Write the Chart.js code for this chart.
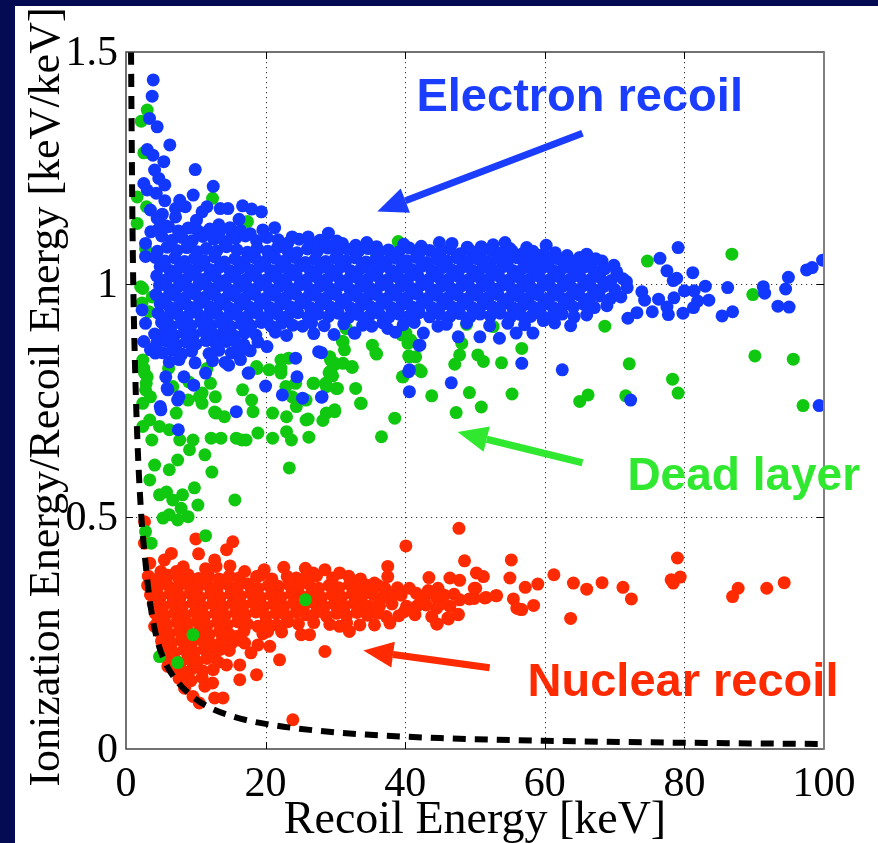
<!DOCTYPE html>
<html>
<head>
<meta charset="utf-8">
<script src="https://cdn.jsdelivr.net/npm/chart.js@4.4.1/dist/chart.umd.min.js"></script>
<style>
  html, body { margin: 0; padding: 0; background: #ffffff; }
  canvas { display: block; }
</style>
</head>
<body>
<canvas id="chart" width="878" height="843"></canvas>
<script>
// Axis ticks
const xTicks = [0, 20, 40, 60, 80, 100];
const yTicks = [0, 0.5, 1, 1.5];

// Electron recoil events [recoil energy keV, ionization / recoil]
const electronRecoil = [
  [3.9,1.44],[3.75,1.405],[3.37,1.357],[4.47,1.339],[6.28,1.30],[3.04,1.29],[3.85,1.278],[5.42,1.264],[9.92,1.247],[4.09,1.246],
  [4.7,1.228],[5.56,1.214],[2.55,1.217],[4.33,1.196],[3.04,1.203],[12.5,1.211],[9.63,1.192],[5.56,1.18],[7.7,1.181],[3.5,1.16],
  [7.1,1.163],[8.5,1.167],[11.6,1.167],[10.9,1.156],[13.5,1.163],[14.6,1.163],[16.7,1.169],[18.0,1.162],[19.4,1.156],[5.2,1.151],
  [4.47,1.142],[10.1,1.138],[7.1,1.145],[16.2,1.14],[21.3,1.122],[5.66,1.126],[13.3,1.128],[3.55,1.113],[10,1.12],[15.2,1.11],
  [23.8,1.102],[26.1,1.102],[27.8,1.095],[2.8,1.088],[29,1.11],[31,1.088],[35.9,1.081],[44.9,1.09],[50.9,1.081],[54.3,1.09],
  [55,1.077],[66,1.065],[64,1.049],
  [25.3,0.91],[32.8,0.895],[35.2,0.91],[37.5,0.905],[42.6,0.895],[44.7,0.91],[47.6,0.887],[50.7,0.887],[53.5,0.884],[55.9,0.895],
  [58.3,0.895],[59.8,0.922],[28,0.853],[40.6,0.816],[40.6,0.769],[46.6,0.788],[56.7,0.83],[62.5,0.816],[25.3,0.755],[28,0.757],[42.1,0.869],
  [79.1,1.079],[76.5,1.056],[77.5,1.029],[78.9,1.013],[78.4,1.008],[81.2,1.025],[83,0.996],[80,0.986],[81.4,0.986],[86.2,0.993],
  [91.3,0.995],[91.5,0.981],[94.5,0.99],[94.9,1.015],[97.5,1.031],[98.3,1.036],[99.8,1.052],[76.3,0.968],[78.5,0.971],[81.9,0.964],
  [83.5,0.966],[81.3,0.95],[77.5,0.951],[77.7,0.935],[75.4,0.941],[79.8,0.938],[85.4,0.932],[86.9,0.941],[93.4,0.953],[95,0.951],
  [73.2,0.939],[71.9,0.927],[74.3,0.966],[73.9,0.984],[71.7,1.006],[68.5,1.034],[72.3,0.751],[99.3,0.739],
  [2.8,1.06],[2.3,0.945],[2.8,0.916],[2.55,0.877],[3.5,0.859],[4.2,0.852],[4.9,0.88],[5.7,0.801],[5.9,0.776],[7.6,0.758],
  [4.9,0.737],[8.3,0.801],[9.7,0.783],[11.4,0.809],[13.5,0.877],[15.9,0.873],[16.2,0.848],[14.7,0.826],[17.6,0.809],[20.2,0.866],
  [20,0.781],[22.4,0.762],[24.3,0.841],[24.5,0.801],[28.1,0.758],[27.6,0.855],[32.7,0.895],[40.5,0.812],[42,0.869],[7.4,0.751],
  [5.0,0.73],[7.5,0.687],[15.8,0.726],[6.0,0.773],[17.5,0.809],
  [4.6,1.118],[6.1,1.124],[7.5,1.115],[8.9,1.121],[10.6,1.112],[12.0,1.119],[13.4,1.113],[14.9,1.122],[16.4,1.116],[17.8,1.109],[19.6,1.117],
  [5.1,1.104],[6.6,1.095],[8.0,1.101],[9.5,1.094],[11.0,1.103],[12.6,1.097],[14.1,1.092],[15.7,1.099],[17.1,1.104],[18.7,1.094],
  [20.2,1.101],[21.8,1.096],[23.2,1.089],[24.8,1.097],[26.4,1.091],[28.6,1.087],[30.2,1.093],[32.9,1.084],[34.5,1.09],[39.8,1.086],
  [42.3,1.082],[46.7,1.088],[48.9,1.08],[52.6,1.085],[57.4,1.079],[60.2,1.084],
  [4.5,1.071],[5.9,1.08],[7.3,1.073],[8.7,1.079],[10.2,1.07],[11.5,1.077],[13.0,1.072],[14.4,1.081],[15.9,1.074],[17.4,1.069],
  [18.8,1.078],[20.3,1.071],[21.7,1.079],[23.1,1.074],[24.5,1.068],[26.0,1.076],[27.4,1.071],[28.9,1.078],[30.3,1.069],[31.8,1.075],
  [33.3,1.071],[34.7,1.077],[36.2,1.068],[37.6,1.074],[39.1,1.07],[40.6,1.078],[42.0,1.067],[43.5,1.073],[45.0,1.069],[46.4,1.076],
  [47.9,1.066],[49.4,1.072],[50.8,1.067],[52.3,1.074],[53.8,1.068],[55.3,1.072],[56.8,1.066],[58.3,1.071],[59.8,1.065],[61.5,1.068],
  [63.2,1.062],[65.0,1.058],[67.3,1.055],
  [4.2,1.058],[5.6,1.05],[7.0,1.057],[8.4,1.049],[9.8,1.056],[11.2,1.051],[12.7,1.059],[14.1,1.048],[15.6,1.055],[17.0,1.05],
  [18.5,1.057],[19.9,1.049],[21.4,1.056],[22.8,1.051],[24.2,1.058],[25.7,1.047],[27.1,1.054],[28.6,1.049],[30.0,1.056],[31.5,1.05],
  [32.9,1.057],[34.4,1.048],[35.8,1.055],[37.3,1.049],[38.7,1.056],[40.2,1.051],[41.6,1.058],[43.1,1.047],[44.5,1.054],[46.0,1.05],
  [47.4,1.057],[48.9,1.048],[50.3,1.055],[51.8,1.049],[53.2,1.056],[54.7,1.05],[56.1,1.057],[57.6,1.048],[59.0,1.054],[60.5,1.049],
  [61.9,1.055],[63.4,1.048],[64.8,1.053],[66.5,1.046],[68.2,1.05],[69.9,1.041],
  [4.9,1.038],[6.3,1.03],[7.7,1.036],[9.1,1.031],[10.5,1.039],[12.0,1.032],[13.4,1.037],[14.9,1.029],[16.3,1.035],[17.8,1.031],
  [19.2,1.038],[20.7,1.03],[22.1,1.036],[23.5,1.032],[25.0,1.039],[26.4,1.03],[27.9,1.036],[29.3,1.031],[30.8,1.038],[32.2,1.029],
  [33.7,1.035],[35.1,1.031],[36.6,1.038],[38.0,1.03],[39.5,1.036],[40.9,1.032],[42.4,1.039],[43.8,1.03],[45.3,1.036],[46.7,1.031],
  [48.2,1.037],[49.6,1.03],[51.1,1.036],[52.5,1.032],[54.0,1.038],[55.4,1.03],[56.9,1.035],[58.3,1.031],[59.8,1.037],[61.2,1.03],
  [62.7,1.036],[64.1,1.031],[65.6,1.037],[67.0,1.03],[68.6,1.034],[70.3,1.027],
  [4.4,1.018],[5.8,1.01],[7.2,1.016],[8.6,1.011],[10.0,1.019],[11.4,1.012],[12.8,1.017],[14.3,1.009],[15.7,1.015],[17.2,1.011],
  [18.6,1.018],[20.1,1.01],[21.5,1.016],[23.0,1.012],[24.4,1.019],[25.9,1.01],[27.3,1.016],[28.8,1.011],[30.2,1.018],[31.7,1.009],
  [33.1,1.015],[34.6,1.011],[36.0,1.018],[37.5,1.01],[38.9,1.016],[40.4,1.012],[41.8,1.019],[43.3,1.01],[44.7,1.016],[46.2,1.011],
  [47.6,1.017],[49.1,1.01],[50.5,1.016],[52.0,1.012],[53.4,1.018],[54.9,1.01],[56.3,1.015],[57.8,1.011],[59.2,1.017],[60.7,1.01],
  [62.1,1.016],[63.6,1.011],[65.0,1.017],[66.5,1.01],[67.9,1.015],[69.5,1.008],[71.2,1.012],
  [4.8,0.998],[6.2,0.99],[7.6,0.996],[9.0,0.991],[10.4,0.999],[11.9,0.992],[13.3,0.997],[14.7,0.989],[16.2,0.995],[17.6,0.991],
  [19.1,0.998],[20.5,0.99],[22.0,0.996],[23.4,0.992],[24.9,0.999],[26.3,0.99],[27.8,0.996],[29.2,0.991],[30.7,0.998],[32.1,0.989],
  [33.6,0.995],[35.0,0.991],[36.5,0.998],[37.9,0.99],[39.4,0.996],[40.8,0.992],[42.3,0.999],[43.7,0.99],[45.2,0.996],[46.6,0.991],
  [48.1,0.997],[49.5,0.99],[51.0,0.996],[52.4,0.992],[53.9,0.998],[55.3,0.99],[56.8,0.995],[58.2,0.991],[59.7,0.997],[61.1,0.99],
  [62.6,0.996],[64.0,0.991],[65.5,0.997],[66.9,0.99],[68.4,0.995],[70.0,0.989],[71.8,0.993],
  [4.3,0.978],[5.7,0.97],[7.1,0.976],[8.5,0.971],[9.9,0.979],[11.3,0.972],[12.7,0.977],[14.2,0.969],[15.6,0.975],[17.1,0.971],
  [18.5,0.978],[20.0,0.97],[21.4,0.976],[22.9,0.972],[24.3,0.979],[25.8,0.97],[27.2,0.976],[28.7,0.971],[30.1,0.978],[31.6,0.969],
  [33.0,0.975],[34.5,0.971],[35.9,0.978],[37.4,0.97],[38.8,0.976],[40.3,0.972],[41.7,0.979],[43.2,0.97],[44.6,0.976],[46.1,0.971],
  [47.5,0.977],[49.0,0.97],[50.4,0.976],[51.9,0.972],[53.3,0.978],[54.8,0.97],[56.2,0.975],[57.7,0.971],[59.1,0.977],[60.6,0.97],
  [62.0,0.976],[63.5,0.971],[64.9,0.977],[66.4,0.97],[67.8,0.975],[69.4,0.969],[70.9,0.973],
  [4.9,0.958],[6.3,0.95],[7.7,0.956],[9.1,0.951],[10.5,0.959],[12.0,0.952],[13.4,0.957],[14.8,0.949],[16.3,0.955],[17.7,0.951],
  [19.2,0.958],[20.6,0.95],[22.1,0.956],[23.5,0.952],[25.0,0.959],[26.4,0.95],[27.9,0.956],[29.3,0.951],[30.8,0.958],[32.2,0.949],
  [33.7,0.955],[35.1,0.951],[36.6,0.958],[38.0,0.95],[39.5,0.956],[40.9,0.952],[42.4,0.959],[43.8,0.95],[45.3,0.956],[46.7,0.951],
  [48.2,0.957],[49.6,0.95],[51.1,0.956],[52.5,0.952],[54.0,0.958],[55.4,0.95],[56.9,0.955],[58.3,0.951],[59.8,0.957],[61.2,0.95],
  [62.7,0.956],[64.1,0.951],[65.6,0.957],[67.1,0.95],[68.9,0.954],
  [4.6,0.938],[6.0,0.93],[7.4,0.936],[8.8,0.931],[10.2,0.939],[11.6,0.932],[13.0,0.937],[14.5,0.929],[15.9,0.935],[17.4,0.931],
  [18.8,0.938],[20.3,0.93],[21.7,0.936],[23.2,0.932],[24.6,0.939],[26.1,0.93],[27.5,0.936],[29.0,0.931],[30.4,0.938],[31.9,0.929],
  [33.3,0.935],[34.8,0.931],[36.2,0.938],[37.7,0.93],[39.1,0.936],[40.6,0.932],[42.0,0.939],[43.5,0.93],[44.9,0.936],[46.4,0.931],
  [47.8,0.937],[49.3,0.93],[50.7,0.936],[52.2,0.932],[53.6,0.938],[55.1,0.93],[56.5,0.935],[58.0,0.931],[59.4,0.937],[60.9,0.93],
  [62.5,0.936],[64.2,0.93],[66.0,0.934],
  [5.1,0.918],[6.5,0.91],[7.9,0.916],[9.3,0.911],[10.7,0.919],[12.2,0.912],[13.6,0.917],[15.0,0.909],[16.5,0.915],[17.9,0.911],
  [19.4,0.918],[20.8,0.91],[22.3,0.916],[23.9,0.912],[26.6,0.917],[28.4,0.911],[31.2,0.915],[33.9,0.912],[36.8,0.917],[39.7,0.913],
  [41.3,0.918],[45.9,0.914],[48.8,0.917],[52.1,0.911],[54.7,0.916],[57.1,0.913],[61.4,0.917],[63.7,0.911],
  [4.1,0.893],[5.5,0.898],[6.9,0.89],[8.3,0.896],[9.7,0.891],[11.1,0.899],[12.6,0.892],[14.0,0.897],[15.5,0.889],[17.0,0.895],
  [18.6,0.891],[21.4,0.897],[23.0,0.89],[26.9,0.894],[29.8,0.892],[38.6,0.897],
  [4.4,0.873],[5.8,0.878],[7.2,0.87],[8.6,0.876],[10.0,0.871],[11.5,0.879],[12.9,0.872],[14.4,0.877],[16.9,0.87],[18.9,0.876],
  [5.2,0.853],[6.6,0.858],[8.0,0.85],[9.4,0.856],[11.9,0.851],[13.3,0.858],[15.1,0.852],[17.8,0.857],
  [6.2,0.833],[7.6,0.838],[9.9,0.831],[12.4,0.836],[14.2,0.832],[16.4,0.838]
];

// Dead layer (surface) events
const deadLayer = [
  [3.04,1.375],[2.18,1.351],[2.55,1.283],[1.6,1.188],[2.94,1.167],[12.4,1.185],[17.4,1.135],[1.6,1.131],[2.8,1.077],
  [2.1,0.995],[3.75,0.973],[2.3,0.96],[3.3,0.941],[2.55,0.819],[3.04,0.801],[2.8,0.773],[3.5,0.758],[6.1,0.819],[6.7,0.78],
  [9,0.79],[10.9,0.766],[10.9,0.744],[12.8,0.758],[12.1,0.787],[11.6,0.819],[16.7,0.773],[18.8,0.819],[20.5,0.816],[22.2,0.837],
  [23.3,0.841],[22.2,0.819],[22.9,0.78],[24.3,0.787],[23.8,0.758],[26.9,0.787],[28.6,0.787],[29.3,0.837],[29.8,0.826],[29.1,0.809],
  [30.3,0.776],[32.4,0.823],[32.9,0.776],[33.6,0.744],[31,0.877],[31.5,0.905],[35.3,0.869],[35.8,0.852],[40.1,0.895],[40.8,0.88],
  [40.5,0.846],[41.5,0.844],[39.6,0.801],[42,0.816],
  [2.4,0.991],[2.4,0.837],[2.65,0.809],[2.9,0.787],[2.4,0.744],[2.4,0.694],[4.8,0.694],[6.2,0.687],[7.7,0.665],[9.6,0.665],
  [12.2,0.669],[13.6,0.669],[15.8,0.669],[17.2,0.665],[18.9,0.68],[21,0.669],[23,0.683],[23.7,0.665],[21,0.723],[23,0.715],
  [25.8,0.708],[24.4,0.737],[25.8,0.751],[31.1,0.83],[12.9,0.723],[14.1,0.715],[7.2,0.723],[8.9,0.751],[10.5,0.758],[18,0.751],
  [18.2,0.726],[18.7,0.823],[22.2,0.809],[28.7,0.723],[29.9,0.73],
  [5.3,0.497],[6.2,0.504],[7.4,0.493],[8.9,0.5],[10.3,0.525],[6.7,0.536],[7.9,0.518],[15.6,0.536],[2.8,0.468],[3.6,0.443],
  [11.4,0.459],[9.6,0.246],[4.8,0.199],[7.4,0.186],[25.7,0.321],
  [3.4,0.708],[3.7,0.665],[4.1,0.611],[3.4,0.579],[4.8,0.547],[6.2,0.601],[7.4,0.622],[9.1,0.644],[11.3,0.633],[12.7,0.725],
  [8.1,0.547],[9.8,0.562],[5.8,0.553],[12.3,0.596],[16.6,0.665],[23.4,0.605],
  [39,1.092],[35.9,1.063],[31.6,0.905],[31.1,0.877],[31.3,0.859],[35.9,0.85],[29.2,0.844],[29.9,0.83],[32.4,0.821],
  [29.2,0.812],[29.6,0.803],[26.8,0.787],[28.7,0.78],[30.1,0.776],[33.7,0.744],[29.9,0.726],[28.2,0.707],[26.1,0.71],
  [38.5,0.712],[36.6,0.672],[26.2,0.671],[39.5,0.891],[40.4,0.873],[40.6,0.844],[42.3,0.812],[39.7,0.801],[43.8,0.76],
  [47.3,0.724],[48.1,0.873],[47.8,0.848],[47.1,0.828],[50.4,0.848],[51.2,0.834],[53.8,0.831],[49.2,0.767],[50.9,0.736],[55.3,0.764],
  [56.7,0.862],[48.8,0.914],[52.6,0.909],
  [74.7,1.05],[86.8,1.065],[89.8,0.978],[68.6,0.91],[72.1,0.829],[90.1,0.846],[95.6,0.839],[78.3,0.796],[66.2,0.762],[71.6,0.76],
  [79.1,0.766],[97,0.739],[65,0.748]
];

// Nuclear recoil events
const nuclearRecoil = [
  [2.65,0.489],[2.65,0.443],[3.4,0.4],[6.5,0.421],[5.5,0.407],[10,0.452],[10.4,0.42],[12.7,0.407],[14.4,0.429],[15.3,0.446],
  [9.6,0.364],[17,0.382],[12.9,0.393],[7.2,0.382],[5,0.382],[3.8,0.36],[18.7,0.371],[21.8,0.35],[24.4,0.368],[26.8,0.379],
  [28.5,0.386],[30.6,0.379],[32.5,0.357],[34.4,0.353],
  [4.1,0.264],[6,0.178],[8.4,0.131],[9.6,0.113],[10.5,0.099],[12.7,0.11],[13.9,0.11],[11.3,0.135],[12.4,0.142],[16.3,0.149],
  [18.7,0.16],[16.3,0.181],[14.4,0.181],[13.4,0.214],[18.9,0.224],[20.6,0.221],[22,0.192],[17,0.228],[15.8,0.242],[25.1,0.246],
  [26.3,0.246],[28.5,0.21],[23.9,0.063],[30.6,0.264],[32,0.253],[33.5,0.267],[18.9,0.264],[20.3,0.253],[8.9,0.16],[7.7,0.178],
  [47.7,0.475],[40.1,0.437],[48.5,0.405],[55.2,0.407],[50.2,0.379],[51.2,0.371],[47.8,0.363],[46.4,0.368],[43.4,0.369],[55,0.368],
  [57.2,0.348],[59,0.355],[61.3,0.375],[64.1,0.357],[66,0.344],[68.2,0.358],[71.2,0.348],[72.4,0.323],[63.7,0.281],[58.4,0.309],
  [56.4,0.301],[55.5,0.323],[53,0.33],[51.6,0.326],[49.9,0.346],[49.9,0.324],[49.2,0.323],[47.8,0.321],[47,0.333],[46.4,0.307],
  [47.6,0.289],[46.1,0.282],[44.5,0.269],[43.8,0.285],[44.5,0.303],[43,0.31],[42.3,0.323],[41.6,0.335],[40.6,0.346],[39.9,0.296],
  [40.2,0.307],[41.4,0.289],[43.3,0.341],[44.7,0.346],[44.8,0.323],
  [37.5,0.393],[37.5,0.371],[35.6,0.357],[37.1,0.346],[38.3,0.332],[36.3,0.321],[34.9,0.307],[36.3,0.307],[37.3,0.285],[35.6,0.267],
  [37.8,0.271],[34.4,0.346],
  [79,0.411],[78.1,0.364],[79.4,0.37],[78.4,0.357],[87.7,0.346],[86.9,0.328],[91.8,0.346],[94.3,0.358],[56,0.303],[56.7,0.3],
  [53.1,0.33],[50.1,0.346],[44.5,0.325],[40.1,0.3],[44.6,0.269],[46.2,0.28],[47.6,0.29],[51.4,0.325],
  [8.2,0.392],[11.4,0.388],[14.9,0.394],[19.8,0.386],[22.6,0.391],[25.7,0.389],
  [3.2,0.372],[4.5,0.366],[6.0,0.374],[7.5,0.368],[8.9,0.375],[10.4,0.367],[11.8,0.373],[13.3,0.366],[14.8,0.372],[16.2,0.368],
  [19.3,0.374],[20.9,0.366],[23.1,0.371],[25.6,0.367],[27.3,0.373],[29.6,0.368],[31.9,0.372],[33.6,0.366],
  [3.1,0.352],[4.5,0.347],[5.9,0.354],[7.4,0.348],[8.8,0.355],[10.2,0.346],[11.7,0.353],[13.1,0.347],[14.6,0.354],[16.0,0.349],
  [17.5,0.355],[18.9,0.346],[20.4,0.352],[21.8,0.347],[23.3,0.354],[24.7,0.349],[26.2,0.355],[27.6,0.346],[29.1,0.352],[30.5,0.347],
  [32.0,0.354],[33.4,0.348],[36.1,0.352],[38.9,0.347],
  [3.5,0.332],[4.9,0.327],[6.3,0.334],[7.8,0.328],[9.2,0.335],[10.6,0.326],[12.1,0.333],[13.5,0.327],[15.0,0.334],[16.4,0.329],
  [17.9,0.335],[19.3,0.326],[20.8,0.332],[22.2,0.327],[23.7,0.334],[25.1,0.329],[26.6,0.335],[28.0,0.326],[29.5,0.332],[30.9,0.327],
  [32.4,0.334],[33.8,0.328],[35.3,0.333],[36.8,0.327],[39.4,0.331],[42.8,0.328],[45.6,0.331],
  [3.9,0.312],[5.3,0.307],[6.7,0.314],[8.1,0.308],[9.6,0.315],[11.0,0.306],[12.4,0.313],[13.9,0.307],[15.3,0.314],[16.8,0.309],
  [18.2,0.315],[19.7,0.306],[21.1,0.312],[22.6,0.307],[24.0,0.314],[25.5,0.309],[26.9,0.315],[28.4,0.306],[29.8,0.312],[31.3,0.307],
  [32.7,0.314],[34.2,0.308],[38.1,0.312],[41.7,0.308],[45.2,0.313],
  [4.2,0.292],[5.6,0.287],[7.0,0.294],[8.5,0.288],[9.9,0.295],[11.3,0.286],[12.8,0.293],[14.2,0.287],[15.7,0.294],[17.1,0.289],
  [18.6,0.295],[20.0,0.286],[21.5,0.292],[22.9,0.287],[24.4,0.294],[25.8,0.289],[27.3,0.295],[28.7,0.286],[30.2,0.292],[31.6,0.287],
  [33.1,0.294],[34.6,0.288],[36.0,0.292],[39.1,0.287],
  [4.5,0.272],[5.9,0.267],[7.3,0.274],[8.8,0.268],[10.2,0.275],[11.6,0.266],[13.1,0.273],[14.5,0.267],[16.0,0.274],[17.4,0.269],
  [20.1,0.273],[21.6,0.267],[23.2,0.274],[24.7,0.269],[26.9,0.272],[29.2,0.268],[31.6,0.271],
  [4.8,0.252],[6.2,0.247],[7.6,0.254],[9.1,0.248],[10.5,0.255],[11.9,0.246],[13.4,0.253],[14.8,0.247],[16.9,0.254],[19.6,0.248],[22.3,0.252],
  [5.1,0.232],[6.5,0.227],[7.9,0.234],[9.4,0.228],[10.8,0.235],[12.2,0.226],[13.7,0.233],[15.1,0.227],[16.3,0.234],
  [5.5,0.212],[6.9,0.207],[8.3,0.214],[9.8,0.208],[11.2,0.215],[12.6,0.206],[14.8,0.212],[17.9,0.207],
  [6.0,0.192],[7.4,0.187],[8.8,0.194],[10.2,0.188],[11.6,0.195],[13.2,0.187],
  [6.8,0.172],[8.2,0.167],[9.6,0.174],[11.0,0.168],[12.5,0.171],
  [7.6,0.152],[9.3,0.147],[10.9,0.154]
];

// Ionization threshold (dashed curve)
const thresholdCurve = [
  [0.72,1.5],[0.85,1.25],[1.0,1.04],[1.3,0.82],[1.7,0.64],[2.2,0.5],[2.8,0.4],[3.4,0.32],[4.3,0.245],[5.5,0.19],
  [7.2,0.148],[9.2,0.117],[11.5,0.093],[15.3,0.07],[20,0.054],[27.7,0.039],[34.4,0.031],[45,0.0235],[60,0.0178],
  [75,0.0143],[90,0.012],[100,0.0108]
];

// Labelled arrows: text anchor and arrow tail/tip in data units
const labelTexts = ['Electron recoil', 'Dead layer', 'Nuclear recoil'];
const callouts = [
  { text: labelTexts[0], color: '#1a3dff', at: [65.0, 1.372], tail: [65.4, 1.325], tip: [36.0, 1.157], size: 47 },
  { text: labelTexts[1], color: '#2fe82f', at: [88.5, 0.558], tail: [65.4, 0.616], tip: [47.5, 0.682], size: 46 },
  { text: labelTexts[2], color: '#ff2a00', at: [79.8, 0.113], tail: [52.1, 0.175], tip: [34.0, 0.212], size: 47 }
];

const SERIF_FONT = '"Liberation Serif", "Times New Roman", serif';
const SANS_FONT = '"Liberation Sans", Arial, sans-serif';

const decorations = {
  id: 'decorations',
  beforeDraw(chart) {
    const ctx = chart.ctx;
    ctx.save();
    ctx.fillStyle = '#050b52';
    ctx.fillRect(0, 0, chart.width, chart.height);
    ctx.fillStyle = '#ffffff';
    ctx.fillRect(15, 6, chart.width - 15, chart.height - 6);
    ctx.restore();
  },
  beforeDatasetsDraw(chart) {
    const { ctx, chartArea: a, scales: { x, y } } = chart;
    ctx.save();
    ctx.strokeStyle = '#333';
    ctx.lineWidth = 1;
    ctx.setLineDash([1.2, 3.8]);
    xTicks.slice(1, -1).forEach(v => {
      const px = Math.round(x.getPixelForValue(v)) + 0.5;
      ctx.beginPath(); ctx.moveTo(px, a.top); ctx.lineTo(px, a.bottom); ctx.stroke();
    });
    yTicks.slice(1, -1).forEach(v => {
      const py = Math.round(y.getPixelForValue(v)) + 0.5;
      ctx.beginPath(); ctx.moveTo(a.left, py); ctx.lineTo(a.right, py); ctx.stroke();
    });
    ctx.restore();
  },
  afterDatasetsDraw(chart) {
    const { ctx, chartArea: a, scales: { x, y } } = chart;
    ctx.save();
    // frame
    ctx.strokeStyle = '#444';
    ctx.lineWidth = 1.5;
    ctx.strokeRect(a.left, a.top, a.right - a.left, a.bottom - a.top);
    ctx.strokeStyle = '#808080';
    ctx.lineWidth = 2;
    ctx.beginPath(); ctx.moveTo(a.right, a.top); ctx.lineTo(a.right, a.bottom); ctx.stroke();
    // inward tick marks
    ctx.strokeStyle = '#000';
    ctx.lineWidth = 1;
    const tl = 7;
    xTicks.slice(1, -1).forEach(v => {
      const px = Math.round(x.getPixelForValue(v)) + 0.5;
      ctx.beginPath(); ctx.moveTo(px, a.bottom); ctx.lineTo(px, a.bottom - tl);
      ctx.moveTo(px, a.top); ctx.lineTo(px, a.top + tl); ctx.stroke();
    });
    yTicks.slice(1, -1).forEach(v => {
      const py = Math.round(y.getPixelForValue(v)) + 0.5;
      ctx.beginPath(); ctx.moveTo(a.left, py); ctx.lineTo(a.left + tl, py);
      ctx.moveTo(a.right, py); ctx.lineTo(a.right - tl, py); ctx.stroke();
    });
    ctx.restore();
  },
  afterDraw(chart) {
    const { ctx, chartArea: a, scales: { x, y } } = chart;
    ctx.save();
    ctx.fillStyle = '#000';

    // tick labels, placed from the scales' own tick values
    ctx.font = '42px ' + SERIF_FONT;
    ctx.textAlign = 'center';
    ctx.textBaseline = 'alphabetic';
    x.ticks.forEach(t => ctx.fillText(String(t.value), x.getPixelForValue(t.value), 796));
    ctx.textAlign = 'right';
    ctx.textBaseline = 'middle';
    y.ticks.forEach(t => ctx.fillText(String(t.value), a.left - 8, y.getPixelForValue(t.value) + 2));

    // axis titles
    ctx.font = '46px ' + SERIF_FONT;
    ctx.textAlign = 'center';
    ctx.textBaseline = 'alphabetic';
    ctx.fillText('Recoil Energy [keV]', (a.left + a.right) / 2, 833);
    ctx.save();
    ctx.translate(59, 397);
    ctx.rotate(-Math.PI / 2);
    ctx.font = '44px ' + SERIF_FONT;
    ctx.fillText('Ionization Energy/Recoil Energy [keV/keV]', 0, 0);
    ctx.restore();

    // callouts
    callouts.forEach(c => {
      const tx = x.getPixelForValue(c.tail[0]), ty = y.getPixelForValue(c.tail[1]);
      const hx = x.getPixelForValue(c.tip[0]), hy = y.getPixelForValue(c.tip[1]);
      const ang = Math.atan2(hy - ty, hx - tx);
      const headLen = 30, headHalf = 13;
      const bx = hx - headLen * Math.cos(ang), by = hy - headLen * Math.sin(ang);
      ctx.strokeStyle = c.color;
      ctx.fillStyle = c.color;
      ctx.lineWidth = 7;
      ctx.lineCap = 'butt';
      ctx.beginPath(); ctx.moveTo(tx, ty); ctx.lineTo(bx, by); ctx.stroke();
      ctx.beginPath();
      ctx.moveTo(hx, hy);
      ctx.lineTo(bx + headHalf * Math.sin(ang), by - headHalf * Math.cos(ang));
      ctx.lineTo(bx - headHalf * Math.sin(ang), by + headHalf * Math.cos(ang));
      ctx.closePath(); ctx.fill();

      ctx.font = 'bold ' + c.size + 'px ' + SANS_FONT;
      ctx.textAlign = 'center';
      ctx.textBaseline = 'alphabetic';
      ctx.fillText(c.text, x.getPixelForValue(c.at[0]), y.getPixelForValue(c.at[1]));
    });
    ctx.restore();
  }
};

const dotStyle = color => ({
  backgroundColor: color,
  borderColor: color,
  borderWidth: 0,
  pointRadius: 6.5,
  pointHoverRadius: 6.5,
  showLine: false
});

new Chart(document.getElementById('chart'), {
  type: 'scatter',
  data: {
    datasets: [
      { label: 'threshold', data: thresholdCurve, showLine: true, pointRadius: 0, borderColor: '#000',
        borderWidth: 6, borderDash: [13, 9], cubicInterpolationMode: 'monotone', fill: false, order: 0 },
      Object.assign({ label: 'Electron recoil', data: electronRecoil, order: 1 }, dotStyle('#1238ff')),
      Object.assign({ label: 'Dead layer', data: deadLayer, order: 2 }, dotStyle('#11c811')),
      Object.assign({ label: 'Nuclear recoil', data: nuclearRecoil, order: 3 }, dotStyle('#ff2a00'))
    ]
  },
  options: {
    responsive: false,
    devicePixelRatio: 1,
    animation: false,
    events: [],
    layout: { padding: { top: 52, right: 54, left: 0, bottom: 0 } },
    plugins: { legend: { display: false }, tooltip: { enabled: false } },
    scales: {
      x: {
        type: 'linear', min: 0, max: 100,
        grid: { display: false, drawTicks: false },
        border: { display: false },
        afterBuildTicks: s => { s.ticks = xTicks.map(v => ({ value: v })); },
        afterFit: s => { s.height = 94; },
        ticks: { display: false }
      },
      y: {
        type: 'linear', min: 0, max: 1.5,
        grid: { display: false, drawTicks: false },
        border: { display: false },
        afterBuildTicks: s => { s.ticks = yTicks.map(v => ({ value: v })); },
        afterFit: s => { s.width = 126; },
        ticks: { display: false }
      }
    }
  },
  plugins: [decorations]
});
</script>
</body>
</html>
